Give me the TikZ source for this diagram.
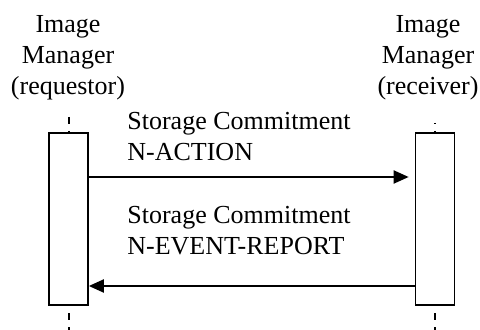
\documentclass[tikz,border=0pt]{standalone}
\usepackage{fontspec}
\setmainfont{Liberation Serif}
\usetikzlibrary{arrows.meta}
\begin{document}
\begin{tikzpicture}[x=0.5pt, y=-0.5pt,
    every node/.style={font=\fontsize{13}{15.5}\selectfont, inner sep=0pt},
    actbox/.style={draw, line width=0.85pt, fill=white, minimum width=19.5pt, minimum height=86pt},
    lifeline/.style={line width=1pt, dash pattern=on 3.5pt off 3.5pt},
    msg/.style={line width=1pt, -{Triangle[length=7.5pt,width=6.5pt]}}]

  \useasboundingbox (0,0) rectangle (480,330);

  % headers of the two lifelines
  \node[align=center, anchor=north] (req) at (68,15) {Image\\Manager\\(requestor)};
  \node[align=center, anchor=north] (rec) at (428,15) {Image\\Manager\\(receiver)};

  % dashed lifelines, drawn under the boxes
  \coordinate (reqtop) at (68.5,117);
  \coordinate (reqend) at (68.5,330);
  \coordinate (rectop) at (435,123);
  \coordinate (recend) at (435,330);
  \draw[lifeline] (reqtop) -- (reqend);
  \draw[lifeline, dash phase=3pt] (rectop) -- (recend);

  \node[actbox] (reqbox) at (68.5,219) {};
  \node[actbox] (recbox) at (435,219) {};

  % the two messages
  \draw[msg, shorten >=3pt] (reqbox.east |- 0,177) -- (recbox.west |- 0,177);
  \draw[msg] (recbox.west |- 0,286) -- (reqbox.east |- 0,286);
  \node[align=left, anchor=north west] (actlbl) at (127,112) {Storage Commitment\\N-ACTION};
  \node[align=left, anchor=north west] (evtlbl) at (127,206) {Storage Commitment\\N-EVENT-REPORT};
\end{tikzpicture}
\end{document}
